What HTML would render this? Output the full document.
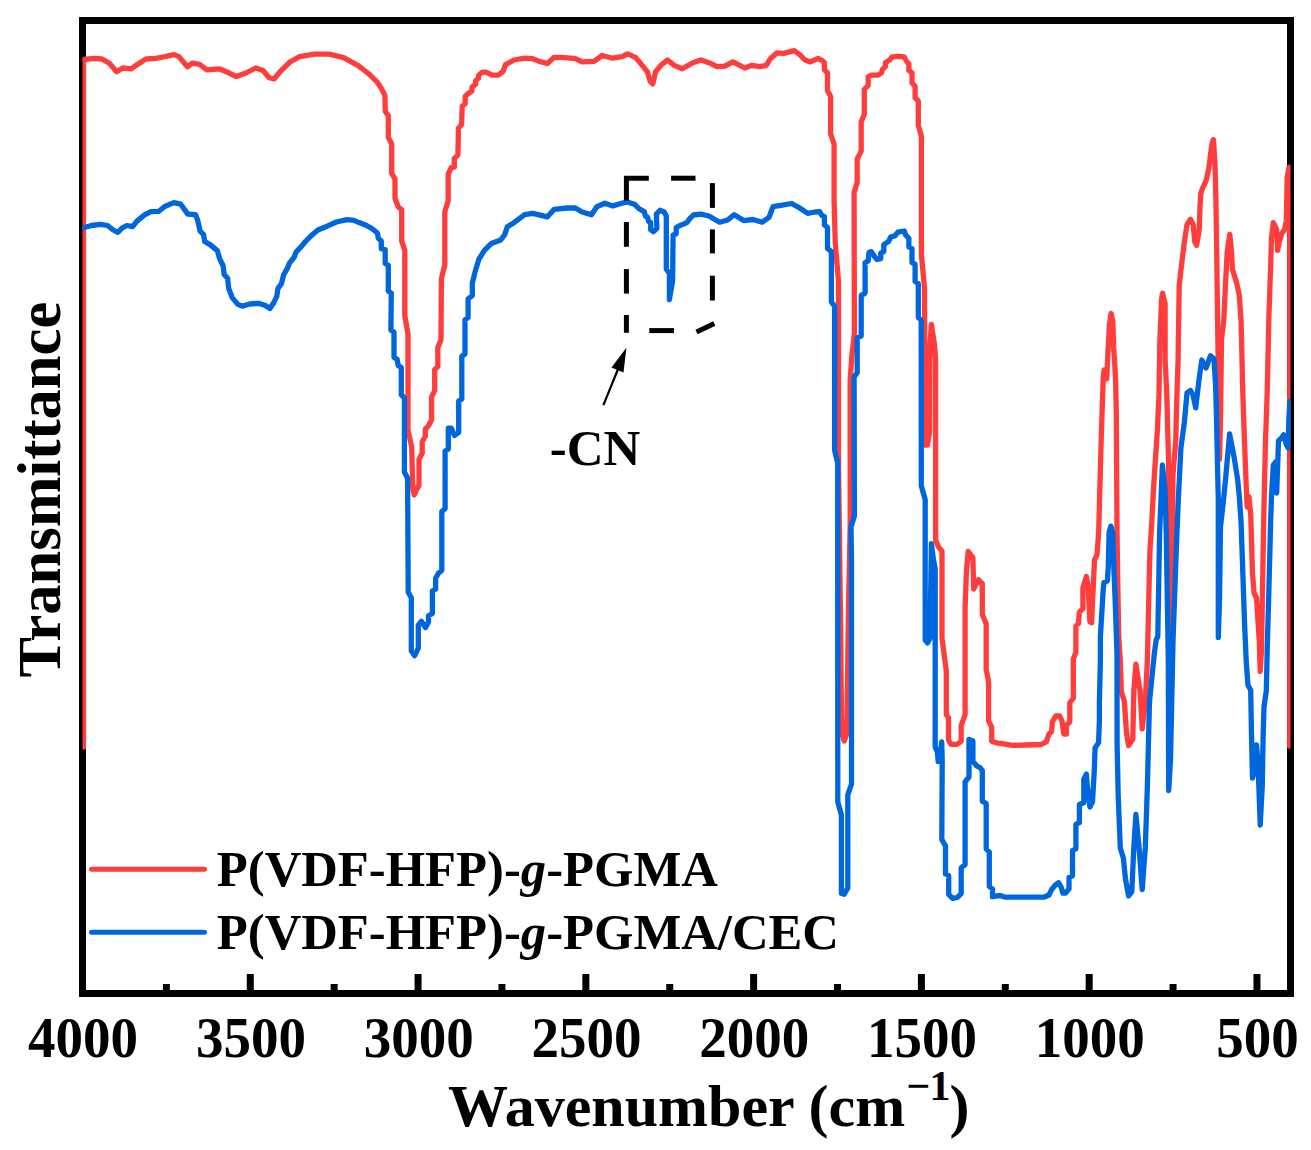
<!DOCTYPE html>
<html><head><meta charset="utf-8"><style>
html,body{margin:0;padding:0;background:#fff;}
svg{display:block;}
text{font-family:"Liberation Serif", serif;font-weight:bold;fill:#000;}
</style></head><body>
<svg width="1311" height="1150" viewBox="0 0 1311 1150">
<defs><clipPath id="c"><rect x="82.5" y="20.5" width="1208" height="973"/></clipPath></defs>
<rect x="0" y="0" width="1311" height="1150" fill="#fff"/>
<rect x="82.5" y="20.5" width="1208" height="973" fill="none" stroke="#000" stroke-width="7"/>
<rect x="162.89" y="984" width="7" height="9" fill="#000"/><rect x="246.78" y="974" width="7" height="19" fill="#000"/><rect x="330.67" y="984" width="7" height="9" fill="#000"/><rect x="414.56" y="974" width="7" height="19" fill="#000"/><rect x="498.45" y="984" width="7" height="9" fill="#000"/><rect x="582.34" y="974" width="7" height="19" fill="#000"/><rect x="666.23" y="984" width="7" height="9" fill="#000"/><rect x="750.12" y="974" width="7" height="19" fill="#000"/><rect x="834.01" y="984" width="7" height="9" fill="#000"/><rect x="917.90" y="974" width="7" height="19" fill="#000"/><rect x="1001.79" y="984" width="7" height="9" fill="#000"/><rect x="1085.68" y="974" width="7" height="19" fill="#000"/><rect x="1169.57" y="984" width="7" height="9" fill="#000"/><rect x="1253.46" y="974" width="7" height="19" fill="#000"/>
<g clip-path="url(#c)" fill="none" stroke-width="5.3" stroke-linejoin="round" stroke-linecap="round">
<path d="M83.5 747 L83.5 59.5 L94.6 58.3 L102 59 L109.3 63.2 L116.6 71.7 L122.7 68 L131.3 68.8 L137.4 64.4 L145.9 59 L155.7 58.3 L163 57 L174 54.6 L178.9 56.6 L187.4 66.8 L192.3 63.2 L199.6 64.4 L206.9 69.8 L219.1 68.8 L226.4 71.7 L236.2 76.6 L246 73 L255.7 68 L263 70.5 L269.2 77.8 L274 79 L280.1 71.7 L290 62 L299.7 56.6 L314.3 54.2 L329 54.2 L343.6 57.6 L358.2 65.6 L369 74 L377 81.8 L381.5 88.6 L384.9 95.4 L385.3 111.2 L388.3 115.8 L388.3 137.3 L391.7 144 L391.7 173.4 L395 179 L395 198.3 L398.3 207 L401.7 209.6 L401.7 240.9 L404.8 250.4 L404.8 315.5 L408 334.3 L408 430.3 L411.7 447 L412.8 488.7 L414.2 495 L417 488.7 L419 485.5 L419 459.5 L422.2 453.2 L422.2 441.7 L425.3 436.5 L425.3 429.2 L428.4 426 L431.6 419.8 L431.6 396.9 L434.7 390.6 L434.7 369.7 L437.8 366.6 L437.8 347.8 L441 339.5 L441.4 278.6 L444.8 265 L444.8 211.9 L448.2 200.6 L448.2 174.4 L451.2 167.7 L454.3 167.1 L454.3 158.6 L457.9 155 L458.5 128.2 L461.6 124.5 L462.2 106.3 L465.2 103.8 L465.2 96.5 L468.3 93.5 L471.9 91 L471.9 87.4 L475.6 84.3 L475.6 80.7 L478.6 78.3 L478.6 75.2 L482.3 72.2 L485.9 72.2 L492 75.2 L498.1 75.2 L503 71.6 L505.4 64.9 L514 60 L524.7 58.2 L532.7 58.7 L539.4 61.4 L547.4 63.5 L554 57.4 L562 57.4 L575.4 58.7 L582.1 61.9 L594.1 61.4 L602.1 55.5 L612.8 58.2 L622.1 56.6 L627.5 53.9 L635.5 57.4 L642.2 65.4 L647.5 72 L650.2 81.4 L652.8 84 L655.5 72 L660.8 65.4 L667.5 60 L674.2 65.4 L682.2 68.8 L692.9 62.7 L700.9 60 L708.9 62.7 L716.9 66.7 L724.9 66.2 L732.9 61.9 L738.3 64.6 L744.9 68 L751.6 65.4 L759.6 66.7 L766.3 65.4 L770.3 58.7 L777 52.8 L783.6 53.3 L794.3 50.7 L799.7 54.7 L805 60 L810.3 61.9 L818.1 58.5 L822 60.3 L824.4 62.7 L824.4 69.7 L827.5 72.9 L827.5 90.8 L830.6 96.3 L830.6 133.9 L834.1 144 L834.1 200 L835.3 243.8 L838.5 281.4 L838.5 461 L840.5 620 L841.5 720 L842.3 735 L844.2 741 L846.3 735 L847 720 L848.5 607 L850.2 525 L850.2 380 L851.8 356.4 L854.4 333 L854.1 192.5 L857.2 182.4 L857.2 158.9 L861.2 151.1 L861.2 122.1 L864.3 114.3 L864.3 89.3 L868.2 85.4 L868.2 76.8 L871.3 75.2 L877.6 75.2 L881.5 72.9 L882.3 69.7 L885.4 66.6 L885.4 62.7 L890.1 59.6 L891.7 57.2 L897.9 56.4 L904.2 56.9 L906.5 61.1 L908.9 64.2 L908.9 70.5 L912 72.9 L912 83 L915.1 86.2 L915.1 97.9 L918.3 101 L918.3 125.3 L921.4 136.2 L921.4 254.8 L924.5 287.6 L925.2 445 L927.5 445 L929.5 432 L930 345 L931.4 324.3 L934.5 345 L935.6 360 L935.6 540 L938.5 547 L942 551 L942 638 L946.3 671 L946.3 714.6 L948.5 717.5 L948.5 740 L950.9 744.3 L957.3 744.3 L961.2 741.2 L961.2 725.6 L965.1 714.6 L965.1 608.2 L966.5 570 L968.2 551.5 L972.9 557.7 L973.7 589 L978.4 579.6 L982.3 583.6 L982.3 614.4 L986.2 623.8 L986.2 669.2 L988.6 681.7 L988.6 720.9 L991.7 727.1 L991.7 741.2 L996.4 742.8 L1002 743.6 L1012.4 745.4 L1026.3 745 L1041.1 744.5 L1046.3 741.9 L1049 734 L1051.6 731.5 L1052.4 721.9 L1055.9 715.8 L1059.4 715.8 L1062 721 L1063.8 734 L1066.4 734 L1066.4 725.4 L1069.8 721.9 L1069.8 702.7 L1073.3 698.4 L1073.3 659.2 L1075.9 652.3 L1075.9 626.1 L1078.5 623.5 L1079.4 612.2 L1082.9 608.7 L1082.9 587.9 L1086.4 576.5 L1088.1 586.1 L1089.9 621.8 L1091.6 622.7 L1093.3 586.1 L1094.5 560 L1097 554.8 L1098.7 532.2 L1099.6 497.4 L1101.5 429.3 L1103.3 377 L1104.1 370 L1106.8 378.8 L1107.6 359.6 L1109.4 324.8 L1111.1 313.5 L1112.8 321.3 L1113.7 347.4 L1115.5 377 L1116.3 411.8 L1117 532.2 L1117.8 584.3 L1118.7 636.5 L1120.3 660 L1121.3 691.3 L1124.4 701.8 L1126.5 733 L1128.6 745.6 L1132.8 739.3 L1133.8 691.3 L1135.9 664.2 L1140.1 691.3 L1142.2 728.9 L1145.3 701.8 L1147.4 660 L1149.1 584.3 L1150 549.6 L1151.7 523.5 L1153.8 484 L1157.4 430 L1159 394.4 L1159.8 342.2 L1161.6 298.7 L1162.6 293.2 L1165.1 303.9 L1165.1 359.6 L1166.8 394.4 L1168.6 464 L1170.1 633.3 L1171.5 600 L1173 474.4 L1175.8 440 L1176.4 411.8 L1178.1 359.6 L1179.2 285.4 L1181.8 262.7 L1184.4 241.8 L1187 224.4 L1190.5 219.2 L1193.1 224.4 L1194.8 241.8 L1196.6 245.3 L1199.2 229.7 L1200 207 L1200.9 193.1 L1202.7 187.9 L1206.1 180.9 L1208.8 168.7 L1210.5 154.8 L1212.2 142.6 L1213.5 139.6 L1215 164.8 L1215.9 199.6 L1216.7 251.7 L1217.6 321.3 L1219.5 459.4 L1220.5 420 L1221.5 340 L1223.7 321.3 L1225.4 286.5 L1227.2 251.7 L1229.8 234.3 L1231.5 251.7 L1232.4 269.1 L1236.7 283 L1239.3 295.2 L1241.1 321.3 L1242.8 392.2 L1244.6 444.3 L1246.3 487.8 L1247.2 507 L1248.9 496.5 L1250.7 513.9 L1251.5 540 L1252.4 572.2 L1254.1 593 L1256.5 598 L1259.3 641.7 L1260.2 671.3 L1261.5 650 L1262.8 572.2 L1263.7 520 L1265.4 444.3 L1267.2 392.2 L1268.9 316.5 L1270.7 264.3 L1271.5 238.3 L1273.3 222.6 L1276.7 229.6 L1277.6 250.4 L1279.3 241.7 L1282 233 L1284.6 229.6 L1286.3 220.9 L1287.2 177.4 L1288.9 167.8 L1289.7 167 L1289.7 746" stroke="#FF3D3D"/>
<path d="M83.4 227.8 L91.4 225.5 L100.6 224.3 L107.5 225.5 L113.2 230 L117.8 232.3 L122.3 227.8 L126.9 225.5 L132.6 226.6 L137.2 220.9 L144.1 215.2 L150.9 211.7 L158.9 211.3 L164.7 206.5 L173.8 202.6 L180.7 204.2 L185.3 210.6 L187.6 214 L195.6 214.7 L197.8 220.9 L200.1 231.2 L203.6 234.6 L204.7 241.5 L210.4 244.9 L217.3 250.6 L219.6 258.6 L223 265.5 L224.2 274.7 L227.6 278.1 L228.7 288.4 L232.2 297.6 L237.9 304.4 L242.5 306.2 L249.3 304 L258.5 303.3 L265.4 305.6 L269.9 308.5 L273.4 303.3 L276.8 296.4 L277.9 288.4 L281.4 283.8 L283.7 274.7 L287.1 268.9 L289.4 263.2 L294 257.5 L296.2 251.8 L300.8 247.2 L305.4 241.5 L311.1 235.8 L317.9 230 L327.1 226.2 L336.3 222 L347 219.6 L353.9 220.4 L359.1 222.6 L366.1 225.2 L372.2 228.7 L377.4 233 L378.3 238.3 L381.3 240.9 L381.3 248.7 L385.2 249.6 L385.2 263.5 L388.3 265.2 L388.3 291.3 L391.3 293 L390.9 330 L394 332.2 L394 357.2 L397.1 359.3 L398.2 365.6 L401.3 367.6 L401.3 394.8 L404.4 397.9 L404.4 472 L407.6 478.2 L408.2 592.3 L411.3 597.8 L411.3 651 L414.7 655.7 L418.3 648 L418.3 625.2 L421.5 621.3 L425.4 627.6 L428.5 622.1 L428.5 615.8 L432.4 613.5 L432.4 590.8 L435.6 589.2 L435.6 578.3 L438.7 572.8 L441.8 570.4 L441.8 511.7 L445.1 508.5 L445.1 451.1 L448.3 449 L448.3 428.2 L451.4 428.2 L454.5 435.5 L458.7 432.3 L458.7 401 L461.8 399 L461.8 356.2 L465 354 L465 319.7 L468.1 317.6 L468.1 298.8 L472.3 295.6 L472.3 283.1 L475.4 270.7 L478.8 259.4 L484.4 250.4 L491.2 243.6 L500.7 240 L504.7 234.7 L507.4 226.7 L514 222.7 L524.7 214.7 L532.7 213.4 L547.4 216.8 L554 209.4 L567.4 208 L575.4 208 L582.1 212 L591.4 214.7 L596.8 206.7 L604.8 203.2 L612.8 205.9 L620.8 203.5 L627.5 201.9 L635 204.6 L639.2 208.8 L644.4 211.9 L645.4 216.1 L647.5 217.1 L648.6 221.3 L650.7 222.3 L650.7 229.7 L653.3 231.7 L656.9 228.6 L656.4 214 L660 210.3 L664.2 211.9 L666.3 216.1 L666.3 269.3 L669.4 273.5 L669.4 299.6 L672.6 280.8 L673.1 234.9 L676.2 233.8 L676.2 227.6 L679.9 225.5 L684 223.9 L687.2 222.3 L689.3 219.2 L693.4 215 L700.9 214.2 L708.9 216 L719.6 222.2 L727.6 220 L734.3 214.7 L743.6 220.6 L753 219.5 L762.3 222.2 L769 217.4 L773 206.7 L781 205.4 L791.6 203.5 L799.7 208 L807.7 213.4 L815 212 L819.7 211.7 L822 215.6 L824.4 216.4 L824.4 225 L827.5 227.4 L827.5 248.5 L831.4 251.6 L831.4 301.7 L834.6 306.4 L834.6 450.4 L837.7 462.9 L837.8 802 L841.4 815 L841.4 893.4 L844.2 894.3 L847.8 888 L847.8 794.9 L851.5 784 L851.5 560 L851 527 L854.4 516 L854.1 376.8 L857.2 372.9 L857.2 337.7 L861.2 336.1 L861.2 295.4 L865.1 293.1 L865.1 262.6 L868.2 261 L869 252.4 L871.3 251.6 L874.4 256.3 L876.8 259.4 L880.7 258.7 L880.7 253.2 L883.8 251.6 L883.8 244.6 L888.5 241.5 L890.9 236.8 L894.8 236 L897.9 232.1 L904.2 231 L905.7 235.2 L908.9 238.3 L908.9 246.9 L912 248.5 L912 262.6 L915.1 264.1 L915.1 281.4 L918.3 283.7 L918.3 317.3 L921.2 320.6 L921.3 485.7 L925.2 499.8 L925.2 640 L927.5 643 L930 638 L931.4 543.6 L933.5 560 L935.2 568.7 L935.2 747 L937.4 752 L938.2 761.7 L940.5 752 L941.7 742 L942.2 760 L941.8 839.6 L945.5 845.8 L945.5 874 L948.7 875.6 L948.7 894.3 L952.6 898.3 L957.3 897.5 L961.2 893.6 L961.2 867.7 L965.1 864.6 L965.1 781.7 L969 777 L969 739.4 L972.9 741 L972.9 761.3 L976.8 766 L980 767.6 L982.3 770.7 L982.3 801.2 L986.2 803.6 L986.2 849 L989.3 852.1 L989.3 886.5 L992.5 888.9 L992.5 896.7 L997.2 895.9 L1000.2 895.5 L1005.4 897.2 L1043.7 897.2 L1049 895 L1051.6 889.7 L1055 885.4 L1058.5 882.7 L1061.1 887.1 L1062.9 893.2 L1065.5 893.2 L1069 888.8 L1069 877.5 L1072.5 875.8 L1072.5 850.5 L1075.9 848.8 L1075.9 824.4 L1079.4 822.7 L1079.4 804.4 L1083.8 802.7 L1083.8 779.2 L1086.4 774 L1087.3 786.1 L1089.9 807 L1092.5 801.8 L1094.2 772.2 L1095.1 747.9 L1098.6 742.6 L1099.4 720 L1099.4 701.8 L1100.4 660 L1100.4 636.5 L1103 593 L1103.9 582.6 L1107.4 580.9 L1108.3 567 L1109.1 532.2 L1110.9 526.1 L1112.6 532.2 L1113.5 558.3 L1115.2 601.7 L1117 653.9 L1117.1 743.5 L1118.2 795.7 L1120.3 847.9 L1123.4 858.3 L1125.5 879.2 L1128.6 895.9 L1131.8 891.7 L1133.8 847.9 L1135.9 814.5 L1139.1 847.9 L1142.2 889.6 L1145.3 847.9 L1147.4 785.3 L1149.5 701.8 L1152.6 670.4 L1154.3 653.9 L1156.1 640 L1157.8 636.5 L1158.7 584.3 L1159.6 532.2 L1162.4 465 L1165 490 L1166.3 535.7 L1168.3 660 L1168.7 790.6 L1170.5 760 L1173 641 L1176.8 535.7 L1178.3 500 L1180.9 448 L1184.4 421.8 L1187 393 L1190.5 390.5 L1193 395 L1195.7 407.9 L1199.2 378.3 L1201.8 360 L1206.1 367.9 L1210.5 355.7 L1214 359.2 L1215.7 387 L1216.6 421.8 L1217.5 465.3 L1218.3 500 L1218.3 637.4 L1219.5 600 L1220.5 527 L1223.5 500 L1225.5 480 L1229.6 434 L1234 456.7 L1237.6 479.1 L1239.3 496.5 L1241.1 522.6 L1242.8 572.2 L1244.6 624.3 L1246.3 662.6 L1248 685.2 L1250.7 690 L1251.5 735 L1252.5 778 L1254 772 L1256.5 745 L1258 762 L1260.2 825.2 L1262.3 785 L1263.1 738 L1264 707 L1266.3 691 L1267.2 650 L1268.9 589.6 L1270.7 520 L1271.5 496.5 L1273.3 465.2 L1275.9 461.7 L1276.7 493 L1277.5 470 L1278.5 440.9 L1281.1 438.3 L1283.7 434.8 L1286.3 444.3 L1288 447.8 L1288.9 418.3 L1289.8 400.9" stroke="#0066DD"/>
</g>
<path d="M626.4 200.5 L626.4 178.2 L648.8 178.2" fill="none" stroke="#000" stroke-width="5" stroke-linejoin="miter" stroke-linecap="butt"/><path d="M671.1 178.2 L695.5 178.2" fill="none" stroke="#000" stroke-width="5" stroke-linejoin="miter" stroke-linecap="butt"/><path d="M712.4 183.1 L712.4 207.9" fill="none" stroke="#000" stroke-width="5" stroke-linejoin="miter" stroke-linecap="butt"/><path d="M712.4 229.4 L712.4 253.4" fill="none" stroke="#000" stroke-width="5" stroke-linejoin="miter" stroke-linecap="butt"/><path d="M712.4 275.7 L712.4 300.5" fill="none" stroke="#000" stroke-width="5" stroke-linejoin="miter" stroke-linecap="butt"/><path d="M714.3 323.6 L696.5 332" fill="none" stroke="#000" stroke-width="5" stroke-linejoin="miter" stroke-linecap="butt"/><path d="M674 330.6 L649.3 330.6" fill="none" stroke="#000" stroke-width="5" stroke-linejoin="miter" stroke-linecap="butt"/><path d="M626.4 332.8 L626.4 315" fill="none" stroke="#000" stroke-width="5" stroke-linejoin="miter" stroke-linecap="butt"/><path d="M626.4 293.6 L626.4 269.1" fill="none" stroke="#000" stroke-width="5" stroke-linejoin="miter" stroke-linecap="butt"/><path d="M626.4 246.8 L626.4 222" fill="none" stroke="#000" stroke-width="5" stroke-linejoin="miter" stroke-linecap="butt"/>
<path d="M603.4 405.2 L619.5 365.5" stroke="#000" stroke-width="2.2" fill="none"/>
<path d="M626.4 347.7 L611.5 367.6 L623.5 372.6 Z" fill="#000"/>
<text x="549.7" y="464.8" font-size="51">-CN</text>
<line x1="91.5" y1="869.3" x2="204.5" y2="869.3" stroke="#FF3D3D" stroke-width="5" stroke-linecap="round"/>
<line x1="91.5" y1="932.3" x2="204.5" y2="932.3" stroke="#0066DD" stroke-width="5" stroke-linecap="round"/>
<text x="216.8" y="885.8" font-size="50.7">P(VDF-HFP)-<tspan font-style="italic">g</tspan>-PGMA</text>
<text x="216.8" y="948.8" font-size="50.7">P(VDF-HFP)-<tspan font-style="italic">g</tspan>-PGMA/CEC</text>
<g font-size="55" transform="translate(0,1057.4) scale(1,1.042) translate(0,-1057.4)"><text x="83.1" y="1057.4" text-anchor="middle">4000</text><text x="250.9" y="1057.4" text-anchor="middle">3500</text><text x="418.7" y="1057.4" text-anchor="middle">3000</text><text x="586.4" y="1057.4" text-anchor="middle">2500</text><text x="754.2" y="1057.4" text-anchor="middle">2000</text><text x="922.0" y="1057.4" text-anchor="middle">1500</text><text x="1089.8" y="1057.4" text-anchor="middle">1000</text><text x="1257.6" y="1057.4" text-anchor="middle">500</text></g>
<text x="448" y="1125.5" font-size="60">Wavenumber (cm</text>
<text x="906.6" y="1100" font-size="42" font-weight="normal">&#8722;</text>
<text x="929.6" y="1100" font-size="42" font-weight="normal">1</text>
<text x="949.6" y="1125.5" font-size="60">)</text>
<text transform="translate(60.3,677.5) rotate(-90)" x="0" y="0" font-size="60.6">Transmittance</text>
</svg>
</body></html>
